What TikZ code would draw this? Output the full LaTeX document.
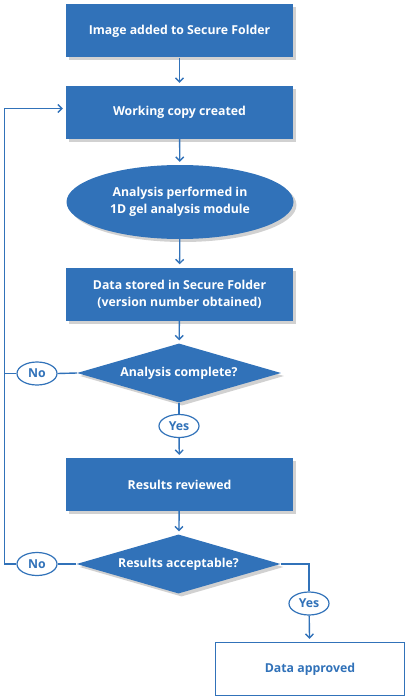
\documentclass[tikz,border=0pt]{standalone}
\usepackage{fontspec}
\setmainfont{Open Sans}
\usetikzlibrary{shapes.geometric,arrows.meta,shadows,calc}
\definecolor{geblue}{RGB}{49,114,185}
\begin{document}
\begin{tikzpicture}[x=1pt,y=-1pt,
  font=\fontsize{12.3}{17}\selectfont\bfseries,
  sh/.style={drop shadow={shadow xshift=3pt,shadow yshift=-3pt,opacity=0.18,fill=black}},
  stepbox/.style={rectangle,fill=geblue,text=white,minimum width=227pt,minimum height=53pt,inner sep=0pt,align=center,sh},
  oval/.style={ellipse,fill=geblue,text=white,minimum width=227pt,minimum height=74pt,inner sep=0pt,align=center,sh},
  decide/.style={diamond,fill=geblue,text=white,minimum width=204pt,minimum height=59pt,aspect=3.46,inner sep=0pt,sh},
  lab/.style={ellipse,draw=geblue,line width=1.2pt,fill=white,text=geblue,minimum width=40pt,minimum height=23pt,inner sep=0pt},
  conn/.style={draw=geblue,line width=1.4pt},
  arr/.style={conn,-{Straight Barb[length=4pt,width=8pt,line width=1.4pt]},shorten >=3pt}
]
\useasboundingbox (0,0) rectangle (406,698);
\node[stepbox] (b1) at (179.5,31) {Image added to Secure Folder};
\node[stepbox] (b2) at (179.5,112.5) {Working copy created};
\node[oval] (e1) at (180,202) {Analysis performed in\\1D gel analysis module};
\node[stepbox] (b3) at (179.5,294) {Data stored in Secure Folder\\(version number obtained)};
\node[decide] (d1) at (179,373) {Analysis complete?};
\node[lab] (n1) at (37,373.5) {No};
\node[lab] (y1) at (179,426) {Yes};
\node[stepbox] (b4) at (179.5,484.5) {Results reviewed};
\node[decide] (d2) at (178.5,564) {Results acceptable?};
\node[lab] (n2) at (37,564) {No};
\node[lab] (y2) at (309,603.5) {Yes};
\node[rectangle,draw=geblue,line width=1.4pt,fill=white,text=geblue,minimum width=189pt,minimum height=53pt,inner sep=0pt] (ok) at (310,669) {Data approved};
\coordinate (Lb) at (4.5,564);
\coordinate (Lt) at (4.5,108.5);
\draw[arr] (b1) -- (b2);
\draw[arr] (b2) -- (e1);
\draw[arr] (e1) -- (b3);
\draw[arr] (b3) -- (d1);
\draw[conn] (d1.south) -- (y1.north);
\draw[arr] (y1) -- (b4);
\draw[arr] (b4) -- (d2);
\draw[conn] (d1.west) -- (n1.east);
\draw[conn] (n1.west) -- (n1.west -| Lb);
\draw[conn] (d2.west) -- (n2.east);
\draw[arr] (n2.west) -- (Lb) -- (Lt) -- (Lt -| b2.west);
\draw[conn] (d2.east) -| (y2.north);
\draw[arr] (y2) -- (ok);
\end{tikzpicture}
\end{document}
